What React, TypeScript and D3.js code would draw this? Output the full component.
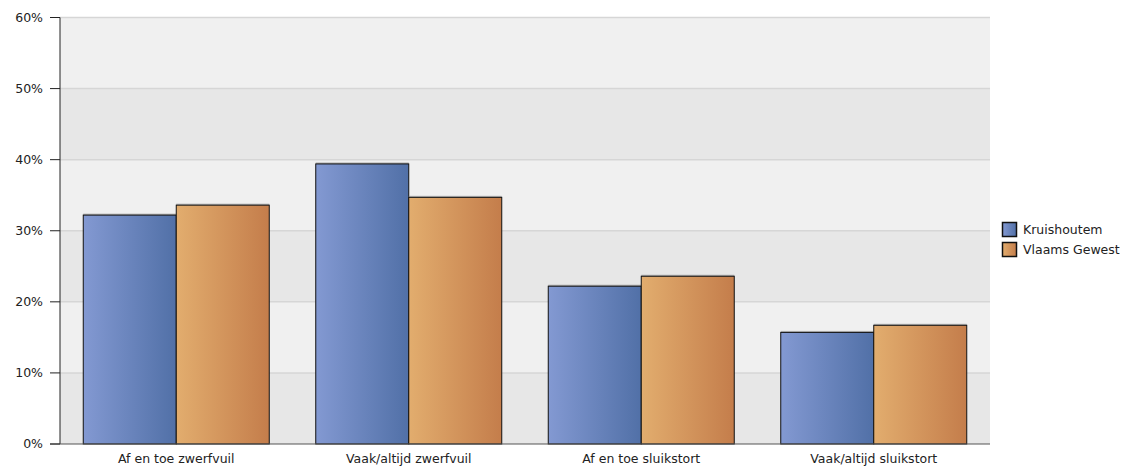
import React from "react";
import * as d3 from "d3";

const categories = ["Af en toe zwerfvuil", "Vaak/altijd zwerfvuil", "Af en toe sluikstort", "Vaak/altijd sluikstort"];
const seriesNames = ["Kruishoutem", "Vlaams Gewest"];
const kruishoutem = [32.2, 39.4, 22.2, 15.7];
const vlaamsGewest = [33.6, 34.7, 23.6, 16.7];
const yTicks = [0, 10, 20, 30, 40, 50, 60];

const W = 1123, H = 466;
const M = { left: 60, right: 990, top: 17.5, bottom: 444 };
const FONT = "'DejaVu Sans', Verdana, sans-serif";
const FS = 12.5;

export default function App() {
  const x0 = d3.scaleBand<string>().domain(categories).range([M.left, M.right]).paddingInner(0.2).paddingOuter(0.1);
  const x1 = d3.scaleBand<string>().domain(seriesNames).range([0, x0.bandwidth()]);
  const y = d3.scaleLinear().domain([0, 60]).range([M.bottom, M.top]);
  const series = [kruishoutem, vlaamsGewest];
  const grads = ["gBlue", "gOrange"];

  return (
    <svg width={W} height={H} style={{ position: "absolute", left: 0, top: 0, background: "#fff" }}>
      <defs>
        <linearGradient id="gBlue" x1="0" x2="1" y1="0" y2="0">
          <stop offset="0%" stopColor="#8399d2" />
          <stop offset="100%" stopColor="#5170a7" />
        </linearGradient>
        <linearGradient id="gOrange" x1="0" x2="1" y1="0" y2="0">
          <stop offset="0%" stopColor="#e2ad6e" />
          <stop offset="100%" stopColor="#c47d4b" />
        </linearGradient>
      </defs>
      {yTicks.slice(0, -1).map((t, i) => (
        <rect key={"band" + t} x={M.left} width={M.right - M.left} y={y(t + 10)} height={y(t) - y(t + 10)}
          fill={i % 2 === 0 ? "#e7e7e7" : "#f0f0f0"} />
      ))}
      {yTicks.slice(1).map((t) => (
        <line key={"grid" + t} x1={M.left} x2={M.right} y1={y(t)} y2={y(t)} stroke="#d6d6d6" strokeWidth={1.5} />
      ))}
      {categories.map((c, ci) =>
        series.map((s, si) => {
          const bx = (x0(c) as number) + (x1(seriesNames[si]) as number);
          const bw = x1.bandwidth();
          return (
            <g key={c + si}>
              <rect x={bx} y={y(s[ci]) - 1.5} width={bw} height={2} fill="#9a9a9a" opacity={0.7} />
              <rect x={bx} y={y(s[ci])} width={bw} height={M.bottom - y(s[ci])} fill={`url(#${grads[si]})`}
                stroke="#111" strokeWidth={1} />
            </g>
          );
        })
      )}
      <line x1={M.left} x2={M.left} y1={M.top} y2={M.bottom} stroke="#222" strokeWidth={1} />
      <line x1={50} x2={M.right} y1={M.bottom} y2={M.bottom} stroke="#555" strokeWidth={1.2} />
      {yTicks.map((t) => (
        <g key={"tick" + t}>
          <line x1={50} x2={M.left} y1={y(t)} y2={y(t)} stroke="#222" strokeWidth={1} />
          <text x={43} y={y(t)} dy="0.35em" textAnchor="end" fontFamily={FONT} fontSize={FS} fill="#222">{t}%</text>
        </g>
      ))}
      {categories.map((c) => (
        <text key={"cat" + c} x={(x0(c) as number) + x0.bandwidth() / 2} y={459} dy="0.35em" textAnchor="middle"
          fontFamily={FONT} fontSize={FS} fill="#222">{c}</text>
      ))}
      {seriesNames.map((n, i) => (
        <g key={"leg" + n} transform={`translate(1002, ${222 + i * 20})`}>
          <rect x={0.5} y={0.5} width={14} height={14} fill={`url(#${grads[i]})`} stroke="#111" strokeWidth={1.5} />
          <text x={21} y={7.5} dy="0.35em" fontFamily={FONT} fontSize={FS} fill="#222">{n}</text>
        </g>
      ))}
    </svg>
  );
}
